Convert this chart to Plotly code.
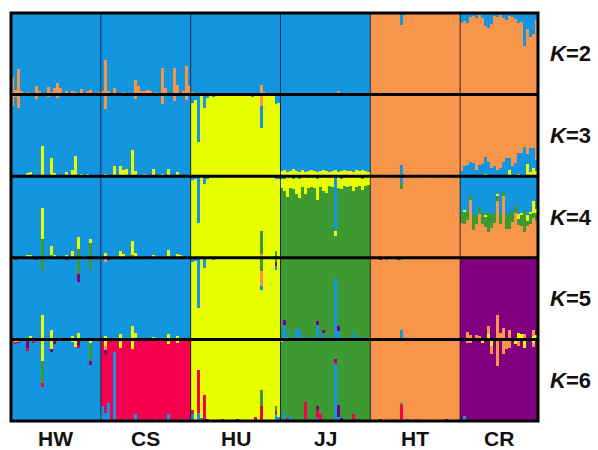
import numpy as np
import plotly.graph_objects as go
from plotly.subplots import make_subplots

# ---------------- data ----------------
populations = ["HW", "CS", "HU", "JJ", "HT", "CR"]
pop_sizes = [30, 30, 30, 30, 30, 26]
k_values = [2, 3, 4, 5, 6]

# cluster colours: B blue, O orange, Y yellow, G green, P purple, R red
colors = {"B": "#1396DF", "O": "#F7964B", "Y": "#E8FF00", "G": "#3D9A33",
          "P": "#80007F", "R": "#F5004F"}

# stacking order (bottom -> top) and dominant cluster per population
k2_order = ["O", "B"]
k2_main = ["B", "B", "B", "B", "O", "O"]
k3_order = ["Y", "B", "O"]
k3_main = ["B", "B", "Y", "B", "O", "O"]
k4_order = ["O", "G", "Y", "B"]
k4_main = ["B", "B", "Y", "G", "O", "O"]
k5_order = ["Y", "B", "O", "P", "G"]
k5_main = ["B", "B", "Y", "G", "O", "P"]
k6_order = ["B", "R", "P", "G", "O", "Y"]
k6_main = ["B", "R", "Y", "G", "O", "P"]

# admixture (population, individual, cluster, percent); dominant cluster = rest
k2_mix = [
    ("HW", 0, "O", 22), ("HW", 1, "O", 6), ("HW", 2, "O", 31), ("HW", 3, "O", 4),
    ("HW", 5, "O", 3), ("HW", 8, "O", 11), ("HW", 9, "O", 4), ("HW", 12, "O", 9),
    ("HW", 13, "O", 3), ("HW", 14, "O", 8), ("HW", 15, "O", 14), ("HW", 16, "O", 8),
    ("HW", 18, "O", 5), ("HW", 20, "O", 5), ("HW", 21, "O", 3), ("HW", 23, "O", 7),
    ("HW", 25, "O", 4), ("HW", 26, "O", 6), ("HW", 29, "O", 3),
    ("CS", 0, "O", 5), ("CS", 1, "O", 43), ("CS", 2, "O", 4), ("CS", 4, "O", 8),
    ("CS", 7, "O", 3), ("CS", 11, "O", 18), ("CS", 12, "O", 10), ("CS", 13, "O", 5),
    ("CS", 14, "O", 4), ("CS", 15, "O", 6), ("CS", 16, "O", 4), ("CS", 18, "O", 3),
    ("CS", 20, "O", 33), ("CS", 21, "O", 8), ("CS", 24, "O", 33), ("CS", 25, "O", 12),
    ("CS", 27, "O", 4), ("CS", 28, "O", 35), ("CS", 29, "O", 10),
    ("HU", 0, "O", 3), ("HU", 23, "O", 12), ("HU", 24, "O", 3), ("HU", 28, "O", 2),
    ("JJ", 12, "O", 2), ("JJ", 19, "O", 5), ("JJ", 25, "O", 2),
    ("HT", 10, "B", 15), ("HT", 11, "B", 2),
]
cr_k2_blue = [12, 10, 12, 5, 4, 6, 2, 6, 16, 18, 14, 4, 5, 3, 6, 8, 4, 5, 7, 12,
              11, 41, 20, 29, 26, 8]

k3_mix = [
    ("HW", 0, "O", 14), ("HW", 1, "O", 3), ("HW", 2, "O", 16), ("HW", 8, "O", 5),
    ("HW", 12, "O", 3), ("HW", 15, "O", 4),
    ("HW", 5, "Y", 4), ("HW", 6, "Y", 5), ("HW", 10, "Y", 37), ("HW", 13, "Y", 22),
    ("HW", 14, "Y", 4), ("HW", 18, "Y", 5), ("HW", 20, "Y", 8), ("HW", 21, "Y", 25),
    ("HW", 23, "Y", 3), ("HW", 25, "Y", 3),
    ("CS", 1, "O", 18), ("CS", 11, "O", 5), ("CS", 20, "O", 12), ("CS", 24, "O", 8),
    ("CS", 28, "O", 6),
    ("CS", 1, "Y", 3), ("CS", 4, "Y", 12), ("CS", 6, "Y", 13), ("CS", 7, "Y", 8),
    ("CS", 8, "Y", 9), ("CS", 10, "Y", 32), ("CS", 11, "Y", 6), ("CS", 14, "Y", 3),
    ("CS", 17, "Y", 9), ("CS", 20, "Y", 3), ("CS", 22, "Y", 9), ("CS", 25, "Y", 5),
    ("HU", 0, "B", 10), ("HU", 1, "B", 6), ("HU", 2, "B", 58), ("HU", 4, "B", 16),
    ("HU", 5, "B", 4), ("HU", 7, "B", 3), ("HU", 20, "B", 3), ("HU", 23, "B", 27),
    ("HU", 23, "O", 14), ("HU", 28, "B", 12), ("HU", 29, "B", 10),
    ("HT", 10, "B", 12), ("HT", 10, "Y", 2),
]
jj_k3_yellow = [6, 7, 5, 6, 9, 6, 5, 7, 5, 6, 8, 6, 5, 6, 7, 6, 5, 6, 7, 5,
                6, 7, 6, 6, 5, 7, 6, 7, 6, 5]
cr_k3_blue = [6, 12, 14, 18, 16, 8, 14, 15, 20, 18, 10, 12, 8, 10, 18, 22, 14, 12,
              16, 26, 28, 36, 12, 30, 24, 14]
cr_k3_yellow = [0, 0, 0, 0, 0, 0, 0, 0, 3, 0, 0, 0, 0, 0, 0, 0, 8, 0, 0, 3,
                0, 0, 15, 5, 10, 6]

k4_mix = [
    ("HW", 1, "G", 2), ("HW", 2, "G", 2), ("HW", 5, "Y", 3), ("HW", 6, "Y", 3),
    ("HW", 8, "G", 2), ("HW", 10, "Y", 38), ("HW", 10, "G", 23), ("HW", 13, "Y", 11),
    ("HW", 13, "G", 3), ("HW", 14, "Y", 3), ("HW", 18, "Y", 3), ("HW", 20, "Y", 8),
    ("HW", 22, "Y", 14), ("HW", 22, "G", 11), ("HW", 24, "Y", 2), ("HW", 26, "Y", 5),
    ("HW", 26, "G", 18),
    ("CS", 1, "Y", 4), ("CS", 1, "G", 2), ("CS", 6, "Y", 8), ("CS", 7, "Y", 5),
    ("CS", 10, "Y", 18), ("CS", 10, "G", 3), ("CS", 11, "Y", 6), ("CS", 17, "Y", 3),
    ("CS", 22, "Y", 9), ("CS", 25, "Y", 5), ("CS", 26, "Y", 3),
    ("HU", 0, "B", 5), ("HU", 1, "B", 4), ("HU", 2, "B", 57), ("HU", 4, "B", 10),
    ("HU", 5, "B", 3), ("HU", 23, "G", 28), ("HU", 23, "O", 5), ("HU", 28, "G", 8),
    ("HU", 28, "B", 3), ("HU", 29, "B", 4),
    ("JJ", 0, "B", 3), ("JJ", 1, "B", 4), ("JJ", 4, "B", 3), ("JJ", 6, "B", 3),
    ("JJ", 9, "B", 2), ("JJ", 12, "B", 3), ("JJ", 18, "B", 67), ("JJ", 20, "B", 3),
    ("JJ", 27, "B", 3),
    ("HT", 3, "Y", 2), ("HT", 10, "B", 8), ("HT", 10, "G", 8), ("HT", 20, "Y", 2),
    ("HT", 24, "Y", 2),
]
jj_k4_yellow = [12, 14, 26, 14, 13, 22, 24, 13, 22, 12, 13, 14, 26, 13, 18, 20, 12,
                13, 6, 14, 13, 12, 13, 12, 18, 13, 12, 14, 12, 11]
cr_k4_blue = [45, 42, 44, 23, 46, 47, 38, 45, 47, 44, 46, 45, 22, 46, 19, 47, 45,
              44, 35, 46, 45, 43, 47, 44, 30, 40]
cr_k4_yellow = [0, 2, 0, 0, 0, 0, 0, 0, 3, 0, 0, 0, 2, 0, 0, 0, 0, 0, 0, 6,
                2, 0, 8, 2, 15, 5]
cr_k4_green = [12, 14, 10, 6, 20, 12, 8, 13, 12, 24, 18, 12, 6, 12, 5, 18, 20, 12,
               10, 8, 14, 25, 6, 12, 6, 10]

k5_mix = [
    ("HW", 0, "O", 3), ("HW", 1, "P", 3), ("HW", 2, "O", 2), ("HW", 5, "P", 2),
    ("HW", 6, "Y", 4), ("HW", 8, "P", 3), ("HW", 10, "Y", 30), ("HW", 10, "G", 16),
    ("HW", 13, "Y", 12), ("HW", 15, "P", 2), ("HW", 18, "P", 3), ("HW", 20, "Y", 4),
    ("HW", 22, "Y", 8), ("HW", 22, "G", 20), ("HW", 22, "P", 10), ("HW", 24, "P", 2),
    ("HW", 26, "G", 16),
    ("CS", 1, "Y", 4), ("CS", 1, "O", 5), ("CS", 2, "P", 3), ("CS", 4, "P", 2),
    ("CS", 6, "Y", 6), ("CS", 10, "Y", 16), ("CS", 11, "Y", 8), ("CS", 12, "P", 2),
    ("CS", 17, "Y", 3), ("CS", 22, "Y", 6), ("CS", 25, "Y", 4),
    ("HU", 0, "B", 5), ("HU", 1, "B", 4), ("HU", 2, "B", 62), ("HU", 4, "B", 12),
    ("HU", 7, "B", 3), ("HU", 23, "G", 16), ("HU", 23, "O", 18), ("HU", 23, "B", 6),
    ("HU", 28, "G", 5), ("HU", 28, "P", 5), ("HU", 28, "B", 5),
    ("JJ", 0, "Y", 2), ("JJ", 1, "P", 6), ("JJ", 1, "B", 16), ("JJ", 1, "Y", 2),
    ("JJ", 2, "B", 6), ("JJ", 5, "B", 14), ("JJ", 6, "B", 12), ("JJ", 9, "B", 3),
    ("JJ", 12, "P", 4), ("JJ", 12, "B", 18), ("JJ", 14, "P", 4), ("JJ", 14, "B", 8),
    ("JJ", 16, "B", 3), ("JJ", 18, "B", 75), ("JJ", 19, "P", 6), ("JJ", 19, "B", 10),
    ("JJ", 24, "B", 8), ("JJ", 27, "B", 3),
    ("HT", 0, "Y", 2), ("HT", 3, "P", 3), ("HT", 5, "G", 3), ("HT", 9, "P", 3),
    ("HT", 10, "Y", 2), ("HT", 10, "B", 10), ("HT", 10, "G", 3),
    ("CR", 1, "G", 2), ("CR", 2, "O", 7), ("CR", 2, "Y", 2), ("CR", 3, "O", 5),
    ("CR", 5, "O", 5), ("CR", 6, "O", 4), ("CR", 8, "G", 2), ("CR", 9, "O", 10),
    ("CR", 9, "Y", 6), ("CR", 12, "O", 30), ("CR", 13, "O", 8), ("CR", 14, "O", 14),
    ("CR", 15, "G", 2), ("CR", 16, "O", 12), ("CR", 19, "Y", 8), ("CR", 20, "Y", 6),
    ("CR", 21, "O", 6), ("CR", 24, "O", 8), ("CR", 24, "Y", 4), ("CR", 25, "Y", 5),
]

k6_mix = [
    ("HW", 1, "R", 3), ("HW", 1, "Y", 3), ("HW", 2, "O", 3), ("HW", 2, "P", 2),
    ("HW", 5, "P", 10), ("HW", 5, "R", 4), ("HW", 7, "R", 4), ("HW", 10, "Y", 26),
    ("HW", 10, "G", 28), ("HW", 10, "R", 4), ("HW", 13, "Y", 12), ("HW", 13, "P", 3),
    ("HW", 14, "P", 6), ("HW", 18, "R", 2), ("HW", 20, "Y", 3), ("HW", 21, "Y", 9),
    ("HW", 22, "P", 8), ("HW", 22, "R", 3), ("HW", 26, "G", 22), ("HW", 26, "Y", 4),
    ("HW", 26, "P", 5),
    ("CS", 0, "B", 18), ("CS", 1, "B", 10), ("CS", 1, "P", 6), ("CS", 1, "Y", 8),
    ("CS", 1, "O", 5), ("CS", 2, "B", 22), ("CS", 4, "B", 85), ("CS", 6, "Y", 10),
    ("CS", 8, "B", 3), ("CS", 10, "Y", 12), ("CS", 11, "B", 8), ("CS", 14, "P", 3),
    ("CS", 18, "B", 3), ("CS", 22, "B", 8), ("CS", 22, "Y", 6), ("CS", 25, "Y", 4),
    ("CS", 27, "B", 3),
    ("HU", 0, "B", 8), ("HU", 0, "R", 5), ("HU", 2, "B", 10), ("HU", 2, "R", 52),
    ("HU", 3, "B", 4), ("HU", 4, "R", 32), ("HU", 5, "P", 3), ("HU", 10, "R", 2),
    ("HU", 15, "P", 2), ("HU", 21, "R", 5), ("HU", 23, "G", 19), ("HU", 23, "R", 16),
    ("HU", 23, "B", 3), ("HU", 28, "B", 8), ("HU", 28, "R", 4), ("HU", 28, "G", 6),
    ("HU", 29, "B", 5),
    ("JJ", 0, "Y", 3), ("JJ", 1, "B", 10), ("JJ", 2, "R", 4), ("JJ", 3, "B", 6),
    ("JJ", 8, "R", 20), ("JJ", 8, "B", 3), ("JJ", 10, "O", 2), ("JJ", 12, "R", 10),
    ("JJ", 12, "P", 5), ("JJ", 12, "B", 4), ("JJ", 13, "R", 8), ("JJ", 18, "B", 70),
    ("JJ", 18, "R", 3), ("JJ", 18, "P", 3), ("JJ", 19, "P", 15), ("JJ", 19, "B", 5),
    ("JJ", 20, "P", 4), ("JJ", 21, "B", 4), ("JJ", 24, "R", 8), ("JJ", 26, "P", 3),
    ("HT", 3, "P", 3), ("HT", 7, "B", 2), ("HT", 10, "R", 17), ("HT", 10, "B", 3),
    ("HT", 10, "G", 2), ("HT", 12, "P", 2), ("HT", 15, "B", 2), ("HT", 25, "P", 2),
    ("CR", 1, "B", 6), ("CR", 2, "O", 5), ("CR", 3, "O", 4), ("CR", 7, "Y", 4),
    ("CR", 10, "Y", 8), ("CR", 10, "O", 10), ("CR", 12, "O", 32), ("CR", 14, "O", 18),
    ("CR", 15, "O", 12), ("CR", 16, "O", 10), ("CR", 18, "Y", 6), ("CR", 19, "O", 8),
    ("CR", 21, "Y", 10), ("CR", 24, "Y", 5), ("CR", 24, "O", 4),
]

# ---------------- build Q matrices ----------------
offsets = np.concatenate([[0], np.cumsum(pop_sizes)[:-1]])
n_ind = int(sum(pop_sizes))


def add_list(mix, pop, cluster, values):
    return mix + [(pop, i, cluster, v) for i, v in enumerate(values) if v]


k2_mix = add_list(k2_mix, "CR", "B", cr_k2_blue)
k3_mix = add_list(k3_mix, "JJ", "Y", jj_k3_yellow)
k3_mix = add_list(k3_mix, "CR", "B", cr_k3_blue)
k3_mix = add_list(k3_mix, "CR", "Y", cr_k3_yellow)
k4_mix = add_list(k4_mix, "JJ", "Y", jj_k4_yellow)
k4_mix = add_list(k4_mix, "CR", "B", cr_k4_blue)
k4_mix = add_list(k4_mix, "CR", "Y", cr_k4_yellow)
k4_mix = add_list(k4_mix, "CR", "G", cr_k4_green)


def build_q(order, main, mix):
    q = {c: np.zeros(n_ind) for c in order}
    for pop, i, c, v in mix:
        q[c][offsets[populations.index(pop)] + i] += v
    for p, m in enumerate(main):
        sl = slice(offsets[p], offsets[p] + pop_sizes[p])
        rest = sum(q[c][sl] for c in order if c != m)
        q[m][sl] = 100 - rest
    return q


rows = [
    (k2_order, build_q(k2_order, k2_main, k2_mix)),
    (k3_order, build_q(k3_order, k3_main, k3_mix)),
    (k4_order, build_q(k4_order, k4_main, k4_mix)),
    (k5_order, build_q(k5_order, k5_main, k5_mix)),
    (k6_order, build_q(k6_order, k6_main, k6_mix)),
]

# ---------------- figure ----------------
fig = make_subplots(rows=5, cols=1, vertical_spacing=0, shared_xaxes=True)
x = np.arange(n_ind)
for r, (order, q) in enumerate(rows, start=1):
    for c in order:
        fig.add_trace(go.Bar(x=x, y=q[c] / 100.0, width=1.0,
                             marker=dict(color=colors[c], line=dict(width=0)),
                             showlegend=False, hoverinfo="skip"), row=r, col=1)
    fig.update_yaxes(range=[0, 1], visible=False, fixedrange=True, row=r, col=1)
    fig.update_xaxes(range=[-0.5, n_ind - 0.5], visible=False, row=r, col=1)

shapes = []
for b in offsets[1:]:
    shapes.append(dict(type="line", xref="x", yref="paper", x0=b - 0.5, x1=b - 0.5,
                       y0=0, y1=1, line=dict(color="rgba(15,25,45,0.85)", width=1)))
for yb in [0.2, 0.4, 0.6, 0.8]:
    shapes.append(dict(type="line", xref="paper", yref="paper", x0=0, x1=1,
                       y0=yb, y1=yb, line=dict(color="black", width=3)))
shapes.append(dict(type="rect", xref="paper", yref="paper", x0=0, x1=1, y0=0, y1=1,
                   line=dict(color="black", width=3)))

annotations = []
for p, name in enumerate(populations):
    cx = offsets[p] + (pop_sizes[p] - 1) / 2.0
    annotations.append(dict(x=cx, y=0, xref="x", yref="paper", text="<b>%s</b>" % name,
                            showarrow=False, xanchor="center", yanchor="middle",
                            yshift=-17, font=dict(size=21, color="#111111",
                                                  family="Liberation Sans, Arial")))
for r, k in enumerate(k_values):
    yc = 1 - (r + 0.5) / 5.0
    annotations.append(dict(x=1, y=yc, xref="paper", yref="paper",
                            text="<b><i>K</i>=%d</b>" % k, showarrow=False,
                            xanchor="left", yanchor="middle", xshift=10,
                            font=dict(size=22, color="#111111",
                                      family="Liberation Sans, Arial")))

fig.update_layout(width=598, height=450, barmode="stack", bargap=0, bargroupgap=0,
                  margin=dict(l=11, r=60, t=13, b=29),
                  paper_bgcolor="white", plot_bgcolor="white",
                  shapes=shapes, annotations=annotations)

# remove the default page margin so the 598x450 figure fills the window exactly
fig.write_html("out.html",
               config={"displayModeBar": False, "staticPlot": True},
               post_script="document.body.style.margin='0px';"
                           "document.body.style.overflow='hidden';")
